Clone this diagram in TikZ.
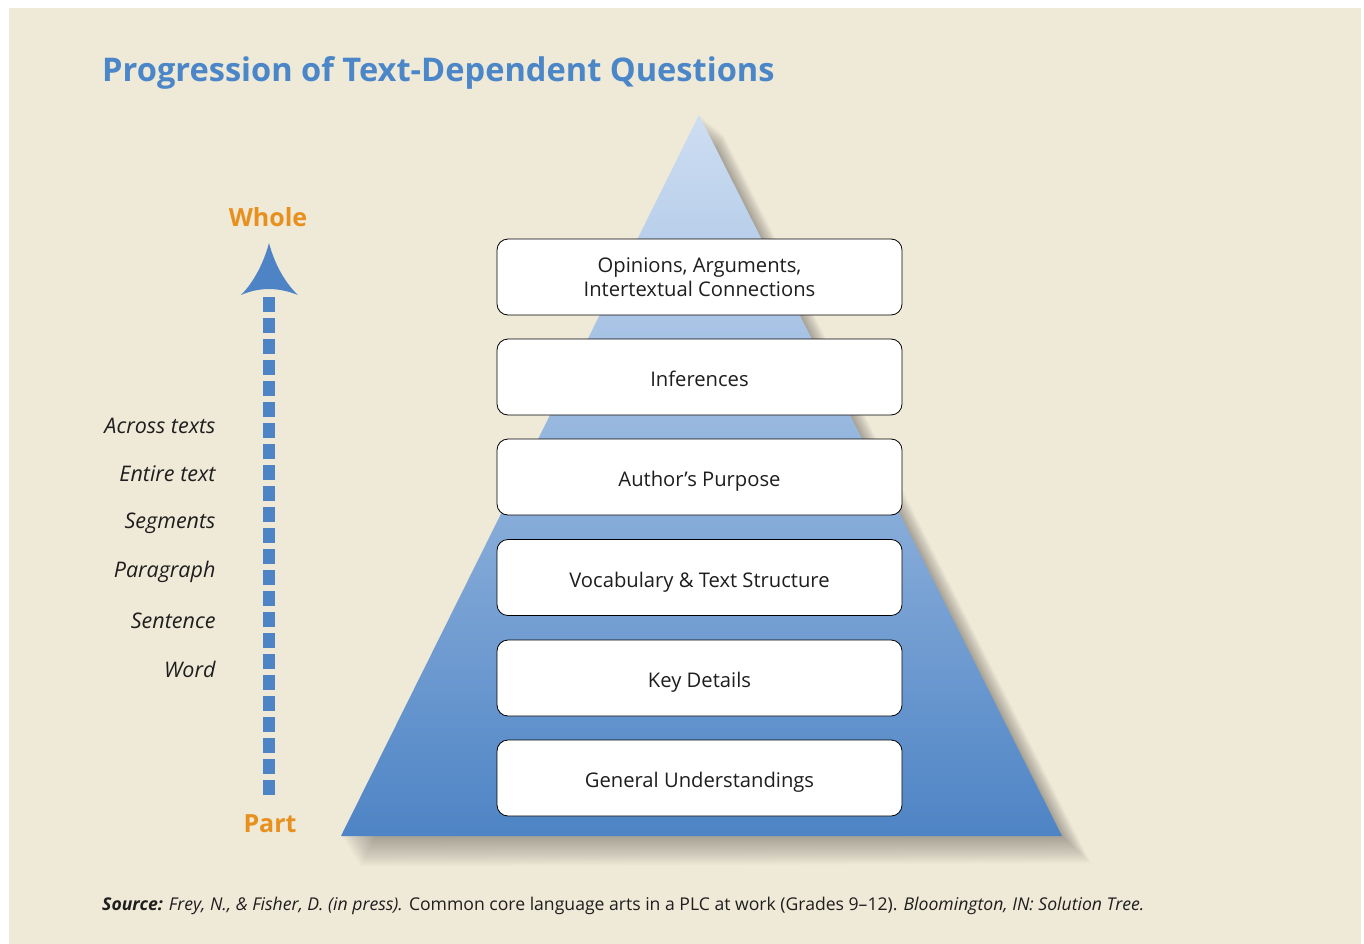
\documentclass[tikz,border=0pt]{standalone}
\usepackage{fontspec}
\setmainfont{Open Sans}
\usetikzlibrary{calc}
\definecolor{bg}{RGB}{239,233,216}
\definecolor{tblue}{RGB}{74,134,200}
\definecolor{aorange}{RGB}{232,144,30}
\definecolor{ptop}{RGB}{206,222,242}
\definecolor{pbot}{RGB}{78,132,197}
\definecolor{txt}{RGB}{30,30,30}
\tikzset{
  levelbox/.style={draw=black, line width=0.8pt, fill=white, rounded corners=11pt,
    minimum width=405pt, minimum height=76pt, align=center, text=txt,
    font=\fontsize{20.2}{24.5}\selectfont},
  onelinebox/.style={levelbox, text height=19pt, text depth=0pt},
  sidelab/.style={anchor=east, text=txt, font=\fontsize{21.5}{25}\selectfont\itshape},
  endlab/.style={text=aorange, font=\fontsize{25}{29}\selectfont\bfseries},
}
\begin{document}
\begin{tikzpicture}[x=1pt,y=-1pt]
\useasboundingbox (0,0) rectangle (1364,944);
\fill[white] (0,0) rectangle (1364,944);
\fill[bg] (9,8) rectangle (1361,944);
% title
\node[anchor=base west, text=tblue, font=\fontsize{32.6}{36}\selectfont\bfseries, inner sep=0pt] (title) at (102,82) {Progression of Text-Dependent Questions};
% pyramid shadow
\foreach \i in {1,...,16}{
  \fill[black, opacity=0.018] ($(699,115)+(\i*1.5,\i*1.2)$) -- ($(1062,836)+(\i*1.8,\i*1.7)$) -- ($(341,836)+(\i*1.2,\i*1.9)$) -- cycle;
}
% pyramid
\shade[top color=ptop, bottom color=pbot] (699,115) coordinate (apex) -- (1062,836) coordinate (br) -- (341,836) coordinate (bl) -- cycle;
% boxes
\node[levelbox] (b1) at (699.5,277) {Opinions, Arguments,\\Intertextual Connections};
\node[onelinebox] (b2) at (699.5,377) {Inferences};
\node[onelinebox] (b3) at (699.5,477) {Author’s Purpose};
\node[onelinebox] (b4) at (699.5,577.5) {Vocabulary \& Text Structure};
\node[onelinebox] (b5) at (699.5,678) {Key Details};
\node[onelinebox] (b6) at (699.5,778) {General Understandings};
% side labels
\node[sidelab] (l1) at (219,426) {Across texts};
\node[sidelab] (l2) at (219,474) {Entire text};
\node[sidelab] (l3) at (219,523) {Segments};
\node[sidelab] (l4) at (219,572) {Paragraph};
\node[sidelab] (l5) at (219,621) {Sentence};
\node[sidelab] (l6) at (219,669) {Word};
% arrow
\node[endlab] (whole) at (268,217) {Whole};
\node[endlab] (part) at (270,824) {Part};
\coordinate (abot) at (269,795);
\coordinate (atop) at (269,295);
\draw[pbot, line width=12pt, dash pattern=on 15.5pt off 5.5pt, dash phase=0pt] (abot) -- (atop);
\fill[pbot] (269,243) .. controls (274,262) and (284,282) .. (298,295)
  .. controls (288,291) and (278,289) .. (269,289)
  .. controls (260,289) and (250,291) .. (241,295)
  .. controls (254,282) and (264,262) .. (269,243) -- cycle;
% source
\node[anchor=base west, text=txt, inner sep=0pt, font=\fontsize{17.6}{21}\selectfont] (src) at (102,910)
 {\textbf{\textit{Source:}} \textit{Frey, N., \& Fisher, D. (in press).} Common core language arts in a PLC at work (Grades 9–12). \textit{Bloomington, IN: Solution Tree.}};
\end{tikzpicture}
\end{document}
